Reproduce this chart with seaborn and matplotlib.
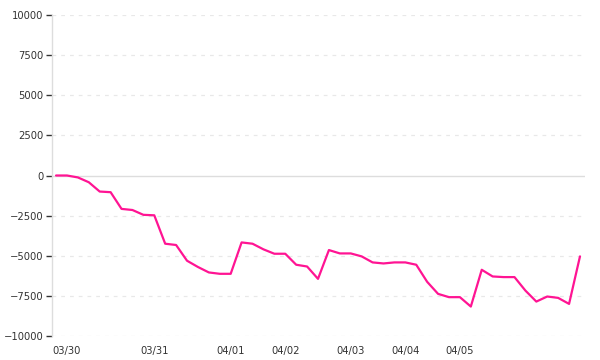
import matplotlib
matplotlib.use("Agg")
import matplotlib.pyplot as plt
import seaborn as sns
import pandas as pd
import numpy as np

values = [0, 0, -120, -420, -1000, -1040, -2080, -2150, -2450, -2480,
          -4250, -4330, -5310, -5700, -6040, -6125, -6125, -4170, -4250, -4600,
          -4875, -4875, -5560, -5670, -6440, -4645, -4855, -4855, -5040, -5415,
          -5480, -5415, -5415, -5560, -6625, -7375, -7580, -7580, -8165, -5875,
          -6290, -6330, -6330, -7170, -7855, -7540, -7625, -8000, -5040]
tick_positions = [1, 9, 16, 21, 27, 32, 37]
tick_labels = ["03/30", "03/31", "04/01", "04/02", "04/03", "04/04", "04/05"]
y_ticks = [-10000, -7500, -5000, -2500, 0, 2500, 5000, 7500, 10000]

df = pd.DataFrame({"idx": np.arange(len(values)), "value": values})

sns.set_style("white")
plt.rcParams["font.family"] = ["DejaVu Sans"]

fig = plt.figure(figsize=(6, 3.6), dpi=100)
ax = fig.add_axes([52/600, 1-336/360, (585-52)/600, (336-15)/360])

for yv in y_ticks:
    if yv == 0:
        ax.axhline(0, color="#dddddd", lw=1.0, zorder=1)
    else:
        ax.axhline(yv, color="#e8e8e8", lw=0.9, ls=(0, (3, 4)), zorder=1)

sns.lineplot(data=df, x="idx", y="value", color="#ff1493", lw=1.6, ax=ax, zorder=3)

ax.set_xlim(-0.37, 48.46)
ax.set_ylim(-10000, 10000)
ax.set_yticks(y_ticks)
ax.set_yticklabels([str(v).replace("-", "\u2212") for v in y_ticks])
ax.set_xticks(tick_positions)
ax.set_xticklabels(tick_labels)
ax.set_xlabel("")
ax.set_ylabel("")

for s in ["top", "right", "bottom"]:
    ax.spines[s].set_visible(False)
ax.spines["left"].set_color("#dddddd")
ax.spines["left"].set_linewidth(1.0)

ax.tick_params(axis="y", length=4, width=1, color="#333333", labelsize=7.2,
               labelcolor="#333333", pad=2, left=True)
ax.tick_params(axis="x", length=0, labelsize=7.2, labelcolor="#333333", pad=7)

fig.savefig("out.png", dpi=100, facecolor="white")
